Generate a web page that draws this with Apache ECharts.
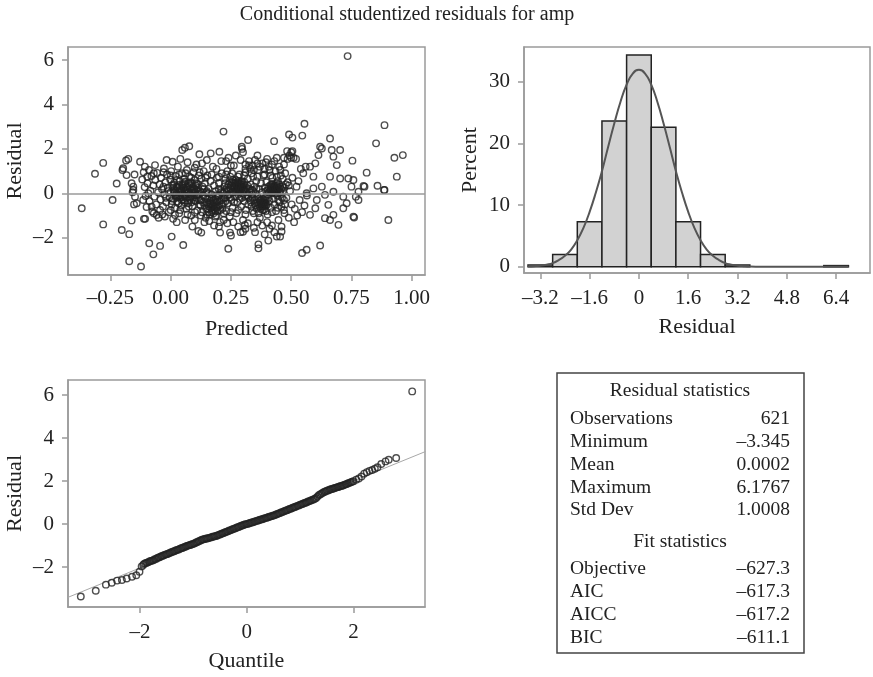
<!DOCTYPE html>
<html><head><meta charset="utf-8">
<script src="https://cdn.jsdelivr.net/npm/echarts@6/dist/echarts.min.js"></script>
<style>html,body{margin:0;padding:0;background:#fff}#c{width:873px;height:677px}</style>
</head><body><div id="c"></div>
<script>
// ---------- DATA ----------
const titleText = 'Conditional studentized residuals for amp';
// Scatter: [predicted, residual]
const scatterPoints = [
[-0.369,-0.67],[-0.314,0.88],[-0.28,1.37],[-0.28,-1.4],[-0.241,-0.3],[-0.224,0.44],[-0.203,-1.65],[-0.2,1.05],[-0.185,1.48],[-0.176,1.55],[-0.172,-1.84],[-0.172,-3.06],[-0.162,-1.22],[-0.158,0.05],[-0.155,0.3],[-0.15,0.85],[-0.152,-0.5],
[-0.197,1.13],[-0.183,0.82],[-0.162,0.45],[-0.155,0.15],[-0.148,-0.15],[-0.141,-0.45],[-0.127,1.42],[-0.107,1.2],[-0.097,0.75],[-0.114,-0.3],[-0.093,0.0],[-0.079,-0.6],[-0.065,1.27],[-0.058,-0.98],[-0.044,-0.75],[-0.017,1.5],[0.008,1.42],[0.018,-0.98],[-0.024,-1.05],
[-0.123,-3.3],[-0.111,-1.15],[-0.106,-1.15],[-0.089,-2.25],[-0.072,-2.75],[-0.044,-2.37],[0.004,-1.95],[0.052,-2.33],
[-0.118,0.62],[-0.112,0.95],[-0.108,0.28],[-0.104,-0.12],[-0.1,-0.62],[-0.096,0.45],[-0.09,1.05],[-0.088,-0.35],[-0.084,0.12],[-0.08,0.78],[-0.076,-0.82],[-0.072,0.35],[-0.068,-0.15],[-0.064,0.6],[-0.06,-0.5],[-0.056,0.92],[-0.052,0.05],[-0.05,-1.1],[-0.046,0.4],[-0.042,-0.28],[-0.04,0.7],[-0.036,0.18],[-0.032,-0.6],[-0.028,1.12],[-0.026,-0.05],[-0.022,0.5],[-0.018,-0.4],[-0.015,0.85],[-0.012,0.25],[-0.008,-0.85],[-0.005,-0.18],[-0.002,0.62],[0.0,0.05],[0.002,1.0],[0.004,-0.5],[0.006,0.35],
[0.01,-0.25],[0.012,0.15],[0.015,0.48],[0.018,-0.65],[0.02,0.78],[0.022,-0.05],[0.025,0.3],[0.027,-0.38],[0.03,1.2],[0.032,0.08],[0.035,-0.9],[0.037,0.55],[0.04,-0.2],[0.042,0.22],[0.045,-0.55],[0.047,0.9],[0.05,0.0],[0.052,0.4],[0.055,-0.32],[0.057,0.65],[0.06,-0.12],[0.062,0.18],[0.065,-0.7],[0.067,1.05],[0.07,0.32],[0.072,-0.45],[0.075,0.05],[0.077,0.75],[0.08,-0.25],[0.082,0.5],[0.085,-1.0],[0.087,0.12],[0.09,-0.58],[0.092,0.28],[0.095,0.95],[0.097,-0.1],[0.1,0.6],[0.102,-0.35],[0.105,0.15],[0.107,1.3],[0.11,-0.78],[0.112,0.42],[0.115,-0.05],[0.117,0.8],[0.12,-0.5],
[0.015,0.05],[0.028,0.25],[0.038,-0.1],[0.048,0.35],[0.058,-0.4],[0.068,0.1],[0.078,-0.05],[0.088,0.45],[0.098,0.2],[0.108,-0.2],[0.03,-0.15],[0.06,0.52],[0.09,0.02],[0.045,0.12],[0.075,-0.6],
[0.01,-1.15],[0.025,-1.3],[0.06,-1.2],[0.09,-1.5],[0.1,1.15],[0.07,1.4],[0.04,1.55],[0.115,-1.7],[0.127,-1.77],[0.1,-1.2],[0.048,1.95],[0.059,2.05],[0.077,2.12],[0.119,1.76],
[0.122,0.1],[0.125,-0.3],[0.127,0.65],[0.13,-0.85],[0.132,0.3],[0.135,-0.1],[0.137,1.0],[0.14,-0.55],[0.142,0.45],[0.145,-1.1],[0.147,0.05],[0.15,-0.4],[0.152,0.8],[0.155,-0.7],[0.157,0.2],[0.16,-0.2],[0.162,-0.95],[0.165,0.55],[0.167,-0.5],[0.17,-0.05],[0.172,-0.75],[0.175,1.2],[0.177,-0.3],[0.18,0.35],[0.182,-0.62],[0.185,-1.05],[0.187,0.1],[0.19,-0.42],[0.192,0.7],[0.195,-0.8],[0.197,-0.15],[0.2,0.45],[0.202,-0.55],[0.205,-1.3],[0.207,0.15],[0.21,-0.3],[0.212,0.9],[0.215,-0.7],[0.217,0.0],[0.22,-0.45],
[0.16,-0.6],[0.17,-0.85],[0.175,-0.55],[0.18,-0.7],[0.165,-0.35],[0.185,-0.25],[0.155,-0.5],[0.19,-0.65],[0.2,-0.1],[0.15,0.1],[0.14,-1.3],[0.13,1.35],[0.15,1.5],[0.19,1.1],[0.21,1.45],[0.2,-1.5],[0.18,-1.45],[0.16,-1.25],[0.22,-1.2],
[0.166,1.8],[0.202,1.87],[0.219,2.78],[0.205,-1.77],[0.239,-2.5],
[0.222,0.3],[0.225,-0.2],[0.227,0.65],[0.23,-0.8],[0.232,0.1],[0.235,1.0],[0.237,-0.45],[0.24,0.4],[0.242,-0.05],[0.245,-1.05],[0.247,0.75],[0.25,0.2],[0.252,-0.3],[0.255,0.5],[0.257,-0.65],[0.26,0.05],[0.262,1.25],[0.265,0.35],[0.267,-0.15],[0.27,0.6],[0.272,-0.9],[0.275,0.25],[0.277,-0.4],[0.28,0.45],[0.282,0.1],[0.285,0.85],[0.287,-0.25],[0.29,0.3],[0.292,-0.6],[0.295,0.55],[0.297,0.0],[0.3,-1.2],[0.302,0.4],[0.305,-0.35],[0.307,0.15],[0.31,0.95],[0.312,-0.75],[0.315,0.25],[0.317,-0.1],[0.32,0.65],[0.322,-0.5],[0.325,1.45],[0.327,0.05],[0.33,-0.3],
[0.27,0.35],[0.28,0.2],[0.29,0.42],[0.275,0.5],[0.285,0.15],[0.265,0.25],[0.295,0.3],[0.26,0.45],[0.3,0.1],[0.28,-0.05],
[0.23,1.45],[0.24,1.6],[0.25,1.25],[0.27,1.7],[0.29,1.5],[0.3,1.85],[0.31,1.3],[0.26,-1.3],[0.28,-1.5],[0.29,-1.75],[0.31,-1.6],[0.32,-1.35],[0.235,-1.35],[0.25,-1.9],[0.33,1.1],
[0.246,-1.77],[0.3,-1.73],[0.308,-1.43],[0.321,2.4],[0.296,2.0],[0.295,2.1],
[0.332,0.4],[0.335,-0.6],[0.337,0.15],[0.34,-0.2],[0.342,0.75],[0.345,-0.9],[0.347,0.3],[0.35,-0.45],[0.352,0.0],[0.355,0.55],[0.357,-0.7],[0.36,-0.15],[0.362,1.05],[0.365,-0.5],[0.367,0.2],[0.37,-1.1],[0.372,-0.3],[0.375,0.45],[0.377,-0.6],[0.38,0.05],[0.382,-0.4],[0.385,0.8],[0.387,-0.75],[0.39,0.25],[0.392,-0.2],[0.395,-0.55],[0.397,0.5],[0.4,-0.05],[0.402,-0.95],[0.405,0.3],[0.407,1.2],[0.41,-0.35],[0.412,0.15],[0.415,-0.65],[0.417,0.4],[0.42,0.0],[0.422,0.7],[0.425,-0.25],[0.427,0.25],[0.43,-0.5],[0.432,0.1],[0.435,1.0],[0.437,-0.8],[0.44,0.35],[0.442,-0.1],[0.445,0.55],[0.447,-1.2],[0.45,0.2],[0.452,-0.4],[0.455,0.05],[0.457,0.8],[0.46,-0.6],
[0.375,-0.5],[0.385,-0.45],[0.38,-0.6],[0.39,-0.4],[0.37,-0.35],[0.415,0.2],[0.425,0.15],[0.43,0.3],[0.42,0.3],[0.44,0.1],
[0.34,1.25],[0.35,1.5],[0.36,1.7],[0.38,1.35],[0.39,1.1],[0.4,1.55],[0.42,1.3],[0.44,1.6],[0.45,1.2],[0.36,-1.3],[0.38,-1.45],[0.4,-1.3],[0.41,-1.6],[0.42,-1.45],[0.43,-1.75],[0.44,-1.95],[0.46,-1.5],[0.345,-1.55],[0.35,-1.75],[0.39,-1.85],
[0.364,-2.3],[0.364,-2.48],[0.405,-2.13],[0.429,2.35],[0.454,-1.95],[0.46,-1.72],
[0.465,0.3],[0.47,1.6],[0.472,-0.9],[0.475,0.9],[0.48,-0.2],[0.483,1.9],[0.485,0.5],[0.49,-1.1],[0.492,1.7],[0.495,0.1],[0.5,1.85],[0.502,-0.5],[0.505,0.7],[0.51,1.6],[0.512,-1.3],[0.515,-0.7],[0.52,1.55],[0.522,0.3],[0.525,-1.0],[0.53,0.55],[0.535,-0.3],[0.54,1.1],[0.545,-0.85],[0.55,0.9],[0.555,-0.55],[0.56,1.2],[0.565,-0.1],
[0.47,-0.3],[0.49,0.35],[0.5,1.6],[0.505,1.9],[0.485,1.55],[0.491,2.65],[0.505,2.51],[0.546,2.6],[0.555,3.13],
[0.578,1.2],[0.6,1.35],[0.62,2.1],[0.627,0.3],[0.64,-0.07],[0.592,0.75],[0.6,-0.67],[0.578,-0.97],[0.606,-0.3],[0.661,0.75],[0.675,0.07],[0.654,-0.52],[0.64,-1.12],[0.661,-1.2],[0.675,-0.97],[0.703,0.67],[0.716,-0.15],[0.73,-0.45],[0.737,0.67],[0.758,0.6],[0.779,-0.3],[0.758,-1.05],[0.696,-1.42],[0.661,2.47],[0.668,1.95],[0.675,1.65],[0.689,1.27],[0.627,2.02],[0.613,1.72],[0.703,1.95],[0.75,0.3],[0.768,-0.15],[0.592,0.22],[0.564,0.0],
[0.545,-2.69],[0.564,-2.54],[0.62,-2.35],[0.716,-0.67],[0.754,1.47],[0.761,-1.09],[0.779,0.07],[0.804,0.3],[0.813,0.93],[0.852,2.25],[0.858,0.34],[0.887,3.07],[0.887,0.15],[0.903,-1.2],[0.928,1.6],[0.938,0.75],[0.963,1.72],[0.8,0.33],[0.885,0.15],
[0.734,6.18]
];
// Further points read from the densest part of the cloud
const scatterPointsDense = [
[-0.03,0.3],[-0.02,-0.2],[-0.01,0.1],[0.005,-0.35],[0.012,0.4],[0.02,-0.1],[0.026,0.6],[0.033,-0.45],[0.04,0.05],[0.046,-0.3],[0.053,0.25],[0.058,0.12],[0.063,-0.2],[0.07,-0.32],[0.073,0.45],[0.08,0.2],[0.086,-0.4],[0.093,-0.2],[0.1,0.05],[0.104,0.35],[0.11,-0.1],[0.114,0.25],[0.118,-0.3],[0.124,-0.55],[0.128,0.05],[0.134,-0.4],[0.138,0.2],[0.143,-0.2],[0.148,-0.7],[0.152,-0.25],[0.156,0.0],[0.158,-0.85],[0.163,-0.45],[0.168,-0.65],[0.171,-0.2],[0.173,-0.45],[0.178,-0.9],[0.183,-0.45],[0.186,-0.8],[0.188,-0.1],[0.193,-0.3],[0.196,-0.6],[0.199,0.2],[0.203,-0.35],[0.206,-0.75],[0.21,0.05],[0.213,-0.5],[0.218,-0.2],
[0.223,0.1],[0.226,0.45],[0.229,-0.35],[0.233,0.25],[0.236,-0.1],[0.24,0.15],[0.244,0.55],[0.248,-0.2],[0.251,0.35],[0.254,0.05],[0.258,0.6],[0.261,0.25],[0.263,-0.4],[0.266,0.45],[0.269,0.1],[0.271,0.15],[0.274,0.4],[0.276,0.05],[0.279,0.32],[0.281,0.55],[0.284,0.28],[0.286,0.38],[0.289,0.1],[0.291,0.5],[0.294,0.2],[0.296,-0.2],[0.299,0.35],[0.303,0.2],[0.306,0.5],[0.309,-0.15],[0.313,0.05],[0.318,0.35],[0.323,-0.2],[0.328,0.2],
[0.333,-0.4],[0.338,-0.05],[0.343,0.1],[0.348,-0.3],[0.353,-0.55],[0.356,0.2],[0.361,-0.4],[0.364,-0.25],[0.368,-0.6],[0.371,-0.45],[0.374,-0.7],[0.376,-0.3],[0.379,-0.45],[0.381,-0.75],[0.384,-0.55],[0.386,-0.3],[0.389,-0.6],[0.391,-0.45],[0.394,-0.3],[0.396,0.1],[0.399,-0.5],[0.403,0.15],[0.406,-0.2],[0.409,0.05],[0.413,0.35],[0.416,0.1],[0.418,0.25],[0.421,0.15],[0.423,0.4],[0.426,0.05],[0.428,0.2],[0.431,0.35],[0.434,0.0],[0.436,0.2],[0.439,0.45],[0.441,0.15],[0.444,0.25],[0.446,-0.3],[0.449,0.4],[0.451,0.0],[0.454,0.3],[0.458,0.2],[0.462,-0.2],[0.466,0.1],[0.47,0.25],[0.474,-0.5],[0.478,0.4],
[-0.07,0.9],[-0.03,0.95],[0.0,0.8],[0.035,0.85],[0.062,0.9],[0.085,0.7],[0.12,0.95],[0.145,0.7],[0.17,0.85],[0.2,0.75],[0.23,0.85],[0.255,0.9],[0.28,0.75],[0.305,0.8],[0.335,0.9],[0.36,0.75],[0.39,0.85],[0.415,0.8],[0.44,0.75],[0.465,0.65],
[-0.07,-0.9],[-0.035,-0.95],[0.0,-0.75],[0.04,-0.75],[0.07,-0.95],[0.1,-0.85],[0.125,-1.0],[0.15,-0.95],[0.19,-1.0],[0.22,-0.9],[0.25,-0.85],[0.28,-0.75],[0.31,-0.95],[0.34,-0.8],[0.365,-0.9],[0.395,-0.8],[0.42,-0.85],[0.445,-0.65],[0.47,-0.75],
[0.01,0.25],[0.018,0.05],[0.024,-0.2],[0.034,0.38],[0.041,0.15],[0.05,-0.15],[0.056,0.45],[0.064,0.3],[0.071,0.0],[0.079,0.35],[0.084,-0.15],[0.091,0.15],[0.099,-0.3],[0.106,0.45],[0.113,0.1],
[0.31,1.1],[0.325,1.25],[0.345,1.05],[0.37,1.2],[0.395,1.4],[0.41,1.05],[0.43,1.45],[0.455,1.05],[0.47,1.3],[0.36,1.35]
];
// Histogram bins (percent)
const binStart = [-3.6,-2.8,-2.0,-1.2,-0.4,0.4,1.2,2.0,2.8,6.0];
const binEnd   = [-2.8,-2.0,-1.2,-0.4,0.4,1.2,2.0,2.8,3.6,6.8];
const binPercent = [0.3,2.0,7.3,23.6,34.3,22.6,7.3,2.0,0.3,0.2];
// Normal density curve
const curveX = [-3.6,-3.4,-3.2,-3.0,-2.8,-2.6,-2.4,-2.2,-2.0,-1.8,-1.6,-1.4,-1.2,-1.0,-0.8,-0.6,-0.4,-0.2,0,0.2,0.4,0.6,0.8,1.0,1.2,1.4,1.6,1.8,2.0,2.2,2.4,2.6,2.8,3.0,3.2,3.4,3.6,4.4,5.2,6.0,6.8];
const curveY = [0.05,0.1,0.19,0.35,0.6,1.1,1.8,2.8,4.3,6.3,8.9,12.0,15.5,19.4,23.2,26.7,29.5,31.3,31.9,31.3,29.5,26.7,23.2,19.4,15.5,12.0,8.9,6.3,4.3,2.8,1.8,1.1,0.6,0.35,0.19,0.1,0.05,0,0,0,0];
// Q-Q plot: [quantile, residual]
const qqPoints = [
[-3.11,-3.37],[-2.83,-3.1],[-2.64,-2.82],[-2.53,-2.73],[-2.43,-2.63],[-2.34,-2.6],[-2.25,-2.53],[-2.15,-2.45],[-2.07,-2.38],[-2.01,-2.22],[-1.97,-1.97],
[-1.94,-1.9],[-1.9,-1.82],[-1.85,-1.78],[-1.8,-1.72],[-1.75,-1.68],[-1.7,-1.62],[-1.65,-1.55],[-1.6,-1.5],[-1.55,-1.45],[-1.5,-1.4],[-1.45,-1.35],[-1.4,-1.3],[-1.35,-1.25],[-1.3,-1.2],[-1.25,-1.15],[-1.2,-1.1],[-1.15,-1.05],[-1.1,-1.0],[-1.05,-0.96],[-1.0,-0.92],[-0.95,-0.86],[-0.9,-0.8],[-0.85,-0.74],[-0.8,-0.7],[-0.75,-0.67],[-0.7,-0.64],[-0.65,-0.6],[-0.6,-0.57],[-0.55,-0.53],[-0.5,-0.48],[-0.45,-0.43],[-0.4,-0.38],[-0.35,-0.33],[-0.3,-0.28],[-0.25,-0.23],[-0.2,-0.18],[-0.15,-0.13],[-0.1,-0.08],[-0.05,-0.03],
[0,0.0],[0.05,0.04],[0.1,0.08],[0.15,0.12],[0.2,0.16],[0.25,0.2],[0.3,0.24],[0.35,0.28],[0.4,0.32],[0.45,0.36],[0.5,0.4],[0.55,0.45],[0.6,0.5],[0.65,0.55],[0.7,0.6],[0.75,0.65],[0.8,0.7],[0.85,0.75],[0.9,0.8],[0.95,0.85],[1.0,0.9],[1.05,0.95],[1.1,1.0],[1.15,1.05],[1.2,1.1],[1.25,1.15],[1.3,1.22],[1.35,1.35],[1.4,1.42],[1.45,1.5],[1.5,1.55],[1.55,1.6],[1.6,1.64],[1.65,1.68],[1.7,1.72],[1.75,1.76],[1.8,1.8],[1.85,1.85],[1.9,1.9],[1.95,1.95],[2.0,2.0],
[2.05,2.07],[2.1,2.12],[2.15,2.22],[2.2,2.35],[2.25,2.42],[2.3,2.48],[2.35,2.52],[2.4,2.58],[2.45,2.65],[2.52,2.8],[2.6,2.92],[2.66,3.0],[2.8,3.08],[3.1,6.18]
];
const qqPointsDense = [
[-1.925,-1.85],[-1.875,-1.8],[-1.825,-1.74],[-1.775,-1.7],[-1.725,-1.64],[-1.675,-1.58],[-1.625,-1.53],[-1.575,-1.47],[-1.525,-1.42],[-1.475,-1.38],[-1.425,-1.32],[-1.375,-1.27],[-1.325,-1.22],[-1.275,-1.18],[-1.225,-1.12],[-1.175,-1.08],[-1.125,-1.02],[-1.075,-0.98],[-1.025,-0.94],[-0.975,-0.89],[-0.925,-0.83],[-0.875,-0.77],[-0.825,-0.72],[-0.775,-0.68],[-0.725,-0.66],[-0.675,-0.62],[-0.625,-0.58],[-0.575,-0.55],[-0.525,-0.5],[-0.475,-0.45],[-0.425,-0.4],[-0.375,-0.35],[-0.325,-0.3],[-0.275,-0.25],[-0.225,-0.2],[-0.175,-0.15],[-0.125,-0.1],[-0.075,-0.05],[-0.025,-0.01],
[0.025,0.02],[0.075,0.06],[0.125,0.1],[0.175,0.14],[0.225,0.18],[0.275,0.22],[0.325,0.26],[0.375,0.3],[0.425,0.34],[0.475,0.38],[0.525,0.42],[0.575,0.47],[0.625,0.52],[0.675,0.57],[0.725,0.62],[0.775,0.67],[0.825,0.72],[0.875,0.77],[0.925,0.82],[0.975,0.87],[1.025,0.92],[1.075,0.97],[1.125,1.02],[1.175,1.07],[1.225,1.12],[1.275,1.18],[1.325,1.28],[1.375,1.38],[1.425,1.46],[1.475,1.52],[1.525,1.57],[1.575,1.62],[1.625,1.66],[1.675,1.7],[1.725,1.74],[1.775,1.78],[1.825,1.82],[1.875,1.87],[1.925,1.92],[1.975,1.97]
];
const qqLineX = [-3.35, 3.35];
const qqLineY = [-3.41, 3.38];
// Statistics table
const residualStatLabels = ['Observations','Minimum','Mean','Maximum','Std Dev'];
const residualStatValues = ['621','\u20133.345','0.0002','6.1767','1.0008'];
const fitStatLabels = ['Objective','AIC','AICC','BIC'];
const fitStatValues = ['\u2013627.3','\u2013617.3','\u2013617.2','\u2013611.1'];
const scatterXTicks = [-0.25,0,0.25,0.5,0.75,1.0];
const scatterYTicks = [-2,0,2,4,6];
const histXTicks = [-3.2,-1.6,0,1.6,3.2,4.8,6.4];
const histYTicks = [0,10,20,30];
const qqXTicks = [-2,0,2];
const qqYTicks = [-2,0,2,4,6];

// ---------- CHART ----------
const FONT = '"Liberation Serif", "DejaVu Serif", serif';
const fmt = d => v => {
  let s = Math.abs(v) < 1e-9 ? (d === 2 ? '0.00' : '0') : v.toFixed(d);
  return s.replace('-', '\u2013');
};
function valAxis(gi, min, max, ticks, f, name, gap, margin) {
  return {
    type: 'value', gridIndex: gi, min: min, max: max,
    name: name, nameLocation: 'middle', nameGap: gap,
    nameTextStyle: { fontFamily: FONT, fontSize: 22, color: '#222' },
    axisLine: { show: true, onZero: false, lineStyle: { color: '#9a9a9a', width: 1.5 } },
    axisTick: { show: true, length: 6, customValues: ticks, lineStyle: { color: '#9a9a9a', width: 1.5 } },
    axisLabel: { customValues: ticks, formatter: f, fontFamily: FONT, fontSize: 21, color: '#222', margin: margin },
    splitLine: { show: false }
  };
}
const circleStyle = { color: 'rgba(0,0,0,0)', borderColor: '#222', borderWidth: 1.4 };

const chart = echarts.init(document.getElementById('c'), null, { renderer: 'canvas' });
const tableX0 = 557, tableY0 = 373;
const TF = '19.5px ' + FONT;
const graphics = [
  { type: 'rect', shape: { x: tableX0, y: tableY0, width: 247, height: 280 }, style: { fill: '#fff', stroke: '#444', lineWidth: 1.5 } },
  { type: 'text', x: 680, y: 391, style: { text: 'Residual statistics', font: TF, fill: '#222', textAlign: 'center', textVerticalAlign: 'middle' } },
  { type: 'text', x: 680, y: 542, style: { text: 'Fit statistics', font: TF, fill: '#222', textAlign: 'center', textVerticalAlign: 'middle' } }
];
const resY = [419, 441.5, 464.5, 487.5, 510];
residualStatLabels.forEach((l, i) => {
  graphics.push({ type: 'text', x: 570, y: resY[i], style: { text: l, font: TF, fill: '#222', textAlign: 'left', textVerticalAlign: 'middle' } });
  graphics.push({ type: 'text', x: 790, y: resY[i], style: { text: residualStatValues[i], font: TF, fill: '#222', textAlign: 'right', textVerticalAlign: 'middle' } });
});
const fitY = [569, 592, 615, 638];
fitStatLabels.forEach((l, i) => {
  graphics.push({ type: 'text', x: 570, y: fitY[i], style: { text: l, font: TF, fill: '#222', textAlign: 'left', textVerticalAlign: 'middle' } });
  graphics.push({ type: 'text', x: 790, y: fitY[i], style: { text: fitStatValues[i], font: TF, fill: '#222', textAlign: 'right', textVerticalAlign: 'middle' } });
});

const histData = binStart.map((s, i) => [s, binEnd[i], binPercent[i]]);

chart.setOption({
  animation: false,
  backgroundColor: '#fff',
  title: { text: titleText, left: 402, top: 0, textAlign: 'center',
    textStyle: { fontFamily: FONT, fontSize: 20, fontWeight: 'normal', color: '#222' } },
  grid: [
    { left: 68, top: 47, width: 357, height: 228, show: true, borderColor: '#9a9a9a', borderWidth: 1.5, backgroundColor: 'transparent' },
    { left: 524, top: 47, width: 346, height: 226, show: true, borderColor: '#9a9a9a', borderWidth: 1.5, backgroundColor: 'transparent' },
    { left: 68, top: 380, width: 357, height: 227, show: true, borderColor: '#9a9a9a', borderWidth: 1.5, backgroundColor: 'transparent' }
  ],
  xAxis: [
    valAxis(0, -0.426, 1.055, scatterXTicks, fmt(2), 'Predicted', 43, 13),
    valAxis(1, -3.73, 7.5, histXTicks, fmt(1), 'Residual', 43, 15),
    valAxis(2, -3.35, 3.34, qqXTicks, fmt(0), 'Quantile', 43, 15)
  ],
  yAxis: [
    valAxis(0, -3.68, 6.59, scatterYTicks, fmt(0), 'Residual', 42, 14),
    valAxis(1, -1.0, 35.6, histYTicks, fmt(0), 'Percent', 43, 14),
    valAxis(2, -3.86, 6.71, qqYTicks, fmt(0), 'Residual', 42, 14)
  ],
  graphic: graphics,
  series: [
    { type: 'scatter', xAxisIndex: 0, yAxisIndex: 0, data: scatterPoints.concat(scatterPointsDense), symbol: 'circle', symbolSize: 6.5,
      itemStyle: circleStyle, z: 3, large: false,
      markLine: { silent: true, symbol: 'none', label: { show: false }, lineStyle: { color: '#9a9a9a', type: 'solid', width: 1.5 }, data: [{ yAxis: 0 }] } },
    { type: 'custom', xAxisIndex: 1, yAxisIndex: 1, data: histData,
      renderItem: function (params, api) {
        const p0 = api.coord([api.value(0), api.value(2)]);
        const p1 = api.coord([api.value(1), 0]);
        return { type: 'rect', shape: { x: p0[0], y: p0[1], width: p1[0] - p0[0], height: p1[1] - p0[1] },
          style: { fill: '#d2d2d2', stroke: '#222', lineWidth: 1.5 } };
      }, z: 2 },
    { type: 'line', xAxisIndex: 1, yAxisIndex: 1, data: curveX.map((x, i) => [x, curveY[i]]), smooth: true, showSymbol: false,
      lineStyle: { color: '#555', width: 2 }, z: 4 },
    { type: 'line', xAxisIndex: 2, yAxisIndex: 2, data: qqLineX.map((x, i) => [x, qqLineY[i]]), showSymbol: false,
      lineStyle: { color: '#a8a8a8', width: 1 }, z: 2 },
    { type: 'scatter', xAxisIndex: 2, yAxisIndex: 2, data: qqPoints.concat(qqPointsDense), symbol: 'circle', symbolSize: 6.5,
      itemStyle: circleStyle, z: 3 }
  ]
});
</script></body></html>
